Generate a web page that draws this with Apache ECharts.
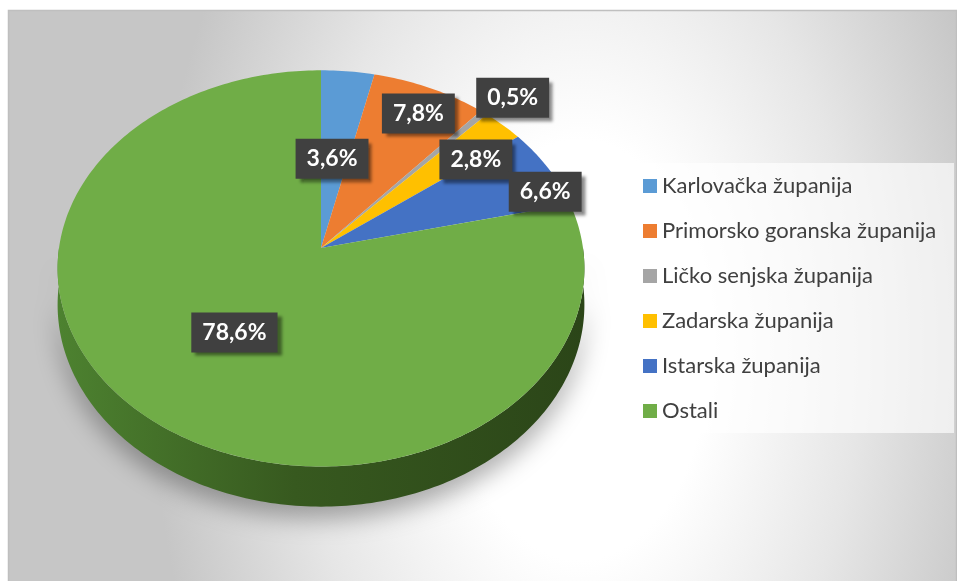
<!DOCTYPE html>
<html>
<head>
<meta charset="utf-8">
<title>Županije</title>
<script src="https://cdn.jsdelivr.net/npm/echarts/dist/echarts.min.js"></script>
<style>
    html, body { margin: 0; padding: 0; background: #ffffff; }
    #charts { width: 957px; height: 581px; }
</style>
</head>
<body>
<div id="charts"></div>
<script>
var names = ['Karlovačka županija', 'Primorsko goranska županija', 'Ličko senjska županija',
    'Zadarska županija', 'Istarska županija', 'Ostali'];
var values = [3.6, 7.8, 0.5, 2.8, 6.6, 78.6];
var labels = ['3,6%', '7,8%', '0,5%', '2,8%', '6,6%', '78,6%'];
var colors = ['#5B9BD5', '#ED7D31', '#A5A5A5', '#FFC000', '#4472C4', '#70AD47'];

// where excel put each label: radius on the disc, degrees off the mid angle
var labelRadius = [0.48, 0.84, 1.15, 0.78, 0.93, 0.52];
var labelShift = [-1.2, 1.4, 1.7, 4.7, 6.6, -0.9];

// tilted disc, seen with a bit of perspective
var CX = 321, CY = 248, A = 262, B = 196, P = 0.103, DEPTH = 36;

var total = 0;
for (var i = 0; i < values.length; i++) total += values[i];

function project(t, r) {
    var X = r * Math.sin(t), Z = r * Math.cos(t);
    var w = 1 + P * Z;
    return [CX + A * X / w, CY - B * Z / w];
}

function arc(a0, a1) {
    var pts = [];
    var n = Math.max(2, Math.ceil((a1 - a0) / (Math.PI / 180)));
    for (var k = 0; k <= n; k++) {
        pts.push(project(a0 + (a1 - a0) * k / n, 1));
    }
    return pts;
}

function renderSlice(params, api) {
    var idx = params.seriesIndex;
    var start = 0;
    for (var k = 0; k < idx; k++) start += values[k];
    var a0 = start / total * 2 * Math.PI;
    var a1 = (start + api.value(0)) / total * 2 * Math.PI;
    var children = [];

    // side wall, only the front half shows
    var w0 = Math.max(a0, Math.PI / 2), w1 = Math.min(a1, Math.PI * 1.5);
    if (w1 > w0) {
        var rim = [], low = [];
        var n = Math.ceil((w1 - w0) / (Math.PI / 180));
        for (var j = 0; j <= n; j++) {
            var t = w0 + (w1 - w0) * j / n;
            var p = project(t, 1);
            var dy = DEPTH / (1 + P * Math.cos(t));
            rim.push(p);
            low.unshift([p[0], p[1] + dy]);
        }
        children.push({
            type: 'polygon',
            shape: { points: rim.concat(low) },
            style: {
                fill: new echarts.graphic.LinearGradient(0, 0, 1, 0, [
                    { offset: 0, color: '#4d8230' },
                    { offset: 0.45, color: '#37591f' },
                    { offset: 1, color: '#2b4518' }
                ]),
                shadowBlur: 24,
                shadowColor: 'rgba(0,0,0,0.32)',
                shadowOffsetY: 12
            }
        });
    }

    children.push({
        type: 'polygon',
        shape: { points: [[CX, CY]].concat(arc(a0, a1)) },
        style: { fill: colors[idx] }
    });

    var mid = (a0 + a1) / 2 + labelShift[idx] * Math.PI / 180;
    var lp = project(mid, labelRadius[idx]);
    children.push({
        type: 'text',
        x: lp[0],
        y: lp[1],
        z2: 100,
        style: {
            text: labels[idx],
            font: 'bold 23px Lato',
            fill: '#ffffff',
            align: 'center',
            verticalAlign: 'middle',
            lineHeight: 22,
            backgroundColor: '#404040',
            padding: [9, 11, 9, 11],
            shadowBlur: 3,
            shadowOffsetX: 4,
            shadowOffsetY: 4,
            shadowColor: 'rgba(0,0,0,0.45)'
        }
    });

    return { type: 'group', children: children };
}

function staticChart() {
    var myChart = echarts.init(document.getElementById('charts'));

    var series = [];
    for (var i = 0; i < names.length; i++) {
        series.push({
            name: names[i],
            type: 'custom',
            coordinateSystem: 'none',
            itemStyle: { color: colors[i] },
            renderItem: renderSlice,
            data: [values[i]]
        });
    }

    var option = {
        animation: false,
        graphic: [
            {
                type: 'rect',
                x: 580, y: 350, scaleX: 430, scaleY: 700,
                shape: { x: (8 - 580) / 430, y: (10 - 350) / 700, width: 949 / 430, height: 571 / 700 },
                style: {
                    fill: new echarts.graphic.RadialGradient(0, 0, 1, [
                        { offset: 0, color: '#ffffff' },
                        { offset: 0.3, color: '#ffffff' },
                        { offset: 0.65, color: '#e6e6e6' },
                        { offset: 1, color: '#c6c6c6' }
                    ], true)
                },
                silent: true,
                z: -10
            },
            {
                type: 'rect',
                shape: { x: 8.5, y: 10.5, width: 948, height: 580 },
                style: { fill: 'none', stroke: '#bfbfbf', lineWidth: 1.5 },
                silent: true,
                z: -9
            },
            {
                type: 'rect',
                shape: { x: 631, y: 163, width: 323, height: 270 },
                style: { fill: 'rgba(255,255,255,0.65)' },
                silent: true,
                z: -8
            }
        ],
        legend: {
            orient: 'vertical',
            left: 643,
            top: 175,
            padding: 0,
            icon: 'rect',
            itemWidth: 14,
            itemHeight: 14,
            itemGap: 23,
            selectedMode: false,
            textStyle: {
                fontFamily: 'Lato',
                fontSize: 22,
                lineHeight: 22,
                color: '#404040'
            },
            data: names
        },
        series: series
    };

    myChart.setOption(option);
    window.addEventListener('resize', function () { myChart.resize(); });
}

staticChart();
</script>
</body>
</html>
